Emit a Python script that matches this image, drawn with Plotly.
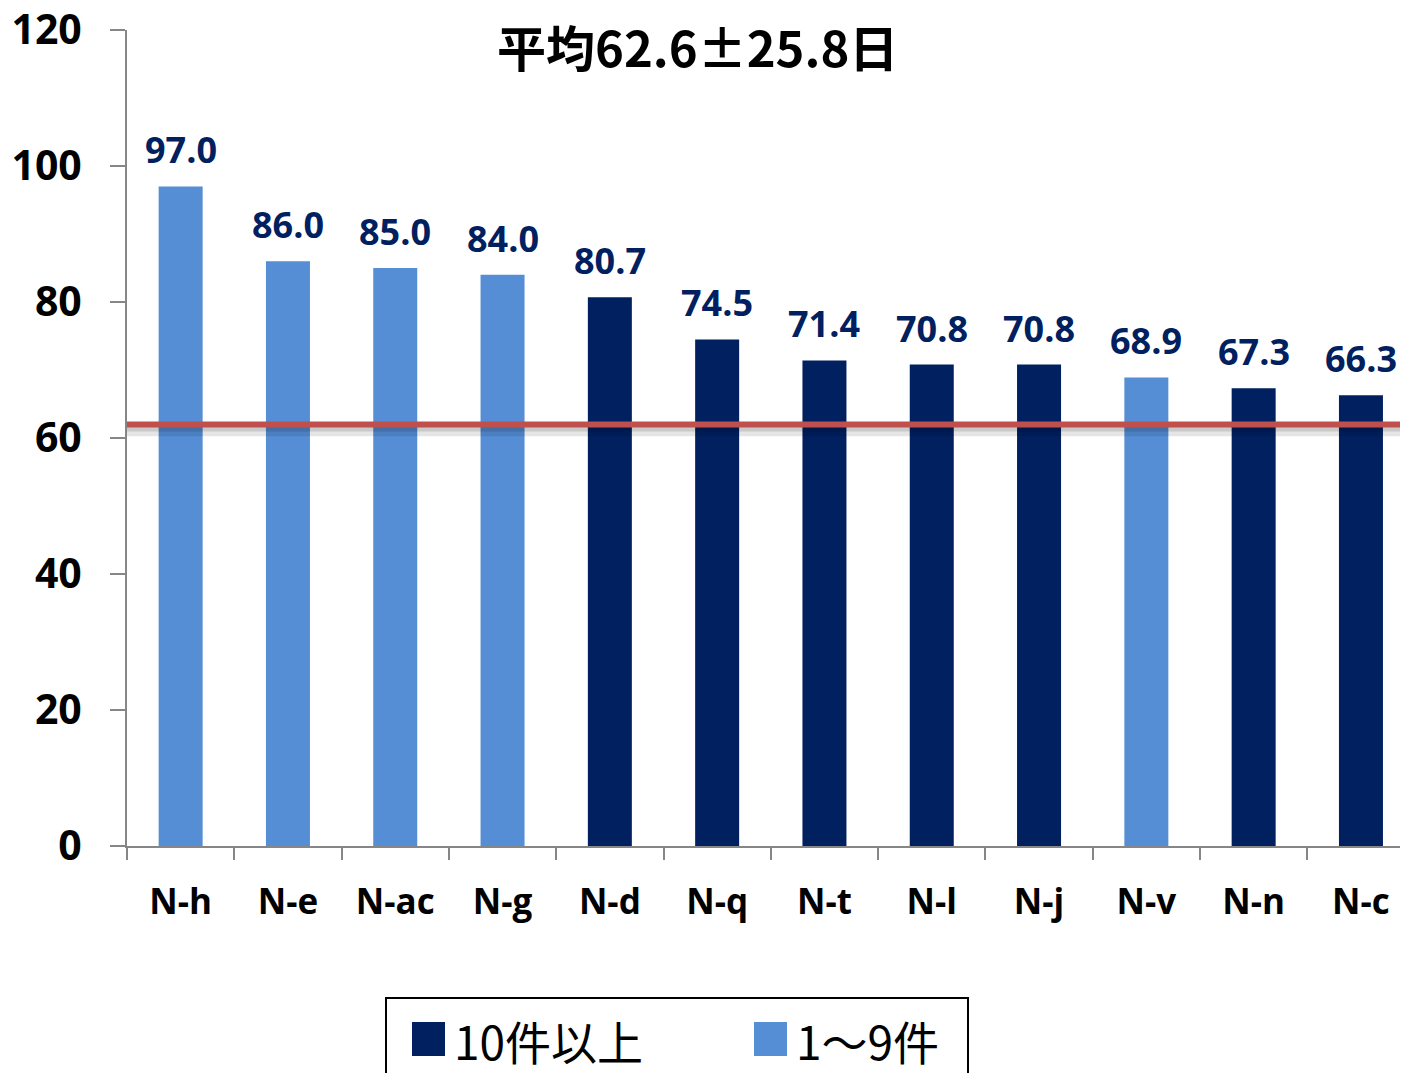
import plotly.graph_objects as go

# === データ ===
categories = ["N-h", "N-e", "N-ac", "N-g", "N-d", "N-q", "N-t", "N-l", "N-j", "N-v", "N-n", "N-c"]
days = [97.0, 86.0, 85.0, 84.0, 80.7, 74.5, 71.4, 70.8, 70.8, 68.9, 67.3, 66.3]
groups = ["1～9件", "1～9件", "1～9件", "1～9件", "10件以上", "10件以上",
          "10件以上", "10件以上", "10件以上", "1～9件", "10件以上", "10件以上"]
mean_line = 62.0
title_text = "平均62.6±25.8日"
y_ticks = [0, 20, 40, 60, 80, 100, 120]

# === 色 ===
DARK = "#002060"
LIGHT = "#558ED5"
group_colors = {"10件以上": DARK, "1～9件": LIGHT}
bar_colors = [group_colors[g] for g in groups]

# ページの body に 8px の余白があるので、その分を差し引く
OFF = 8
W, H = 1408 - OFF, 1073 - OFF
ML, MR, MT, MB = 127 - OFF, 0, 30 - OFF, 227
PW, PH = W - ML - MR, H - MT - MB
SLOT = 107.3  # 元画像のカテゴリ幅（右端は画像外にはみ出している）
X_MAX = -0.5 + PW / SLOT


def px(x):
    # 画面上の x 座標 -> paper 座標
    return (x - OFF - ML) / PW


def py(y):
    # 画面上の y 座標 -> paper 座標
    return (H - MB - (y - OFF)) / PH


fig = go.Figure()
fig.add_trace(go.Bar(
    x=categories, y=days,
    marker=dict(color=bar_colors, line=dict(width=0)),
    width=0.41,
    showlegend=False,
))

# 値ラベル
for c, v in zip(categories, days):
    fig.add_annotation(x=c, y=v, text=f"{v:.1f}", showarrow=False,
                       xanchor="center", yanchor="bottom", yshift=10,
                       font=dict(family="Open Sans", size=36, color=DARK, weight="bold"))

# 平均線（影つき）
fig.add_shape(type="line", xref="paper", yref="y", x0=0, x1=1,
              y0=mean_line - 1.0, y1=mean_line - 1.0,
              line=dict(color="rgba(0,0,0,0.10)", width=10))
fig.add_shape(type="line", xref="paper", yref="y", x0=0, x1=1,
              y0=mean_line - 0.6, y1=mean_line - 0.6,
              line=dict(color="rgba(0,0,0,0.12)", width=6))
fig.add_shape(type="line", xref="paper", yref="y", x0=0, x1=1,
              y0=mean_line, y1=mean_line,
              line=dict(color="#C0504D", width=6))

# タイトル
fig.add_annotation(text=title_text, xref="paper", yref="paper",
                   x=px(697), y=py(45), showarrow=False,
                   xanchor="center", yanchor="middle",
                   font=dict(family="Noto Sans CJK JP", size=49, color="black", weight="bold"))

# === 凡例（手描き） ===
fig.add_shape(type="rect", xref="paper", yref="paper",
              x0=px(386), x1=px(968), y0=py(1090), y1=py(998),
              line=dict(color="black", width=2), fillcolor="white", layer="below")
for x0, col, label in [(412, DARK, "10件以上"), (754, LIGHT, "1〜9件")]:
    fig.add_shape(type="rect", xref="paper", yref="paper",
                  x0=px(x0), x1=px(x0 + 33), y0=py(1056), y1=py(1022),
                  line=dict(width=0), fillcolor=col)
    fig.add_annotation(text=label, xref="paper", yref="paper",
                       x=px(x0 + 40), y=py(1040), showarrow=False,
                       xanchor="left", yanchor="middle",
                       font=dict(family="Noto Sans CJK JP", size=46, color="black"))

fig.update_layout(
    width=W, height=H,
    margin=dict(l=ML, r=MR, t=MT, b=MB),
    plot_bgcolor="white", paper_bgcolor="white",
    xaxis=dict(
        automargin=False, range=[-0.5, X_MAX],
        showline=True, linecolor="#868686", linewidth=2,
        ticks="outside", ticklen=12, tickcolor="#868686", tickwidth=2,
        tickson="boundaries", showgrid=False,
        tickfont=dict(family="Open Sans", size=35, color="black", weight="bold"),
        ticklabelstandoff=24,
    ),
    yaxis=dict(
        automargin=False, ticklabeloverflow="allow",
        range=[0, 120], tickvals=y_ticks,
        showline=True, linecolor="#868686", linewidth=2,
        ticks="outside", ticklen=15, tickcolor="#868686", tickwidth=2,
        showgrid=False, zeroline=False,
        tickfont=dict(family="Open Sans", size=41, color="black", weight="bold"),
        ticklabelstandoff=20,
    ),
)

fig.write_html("out.html")
